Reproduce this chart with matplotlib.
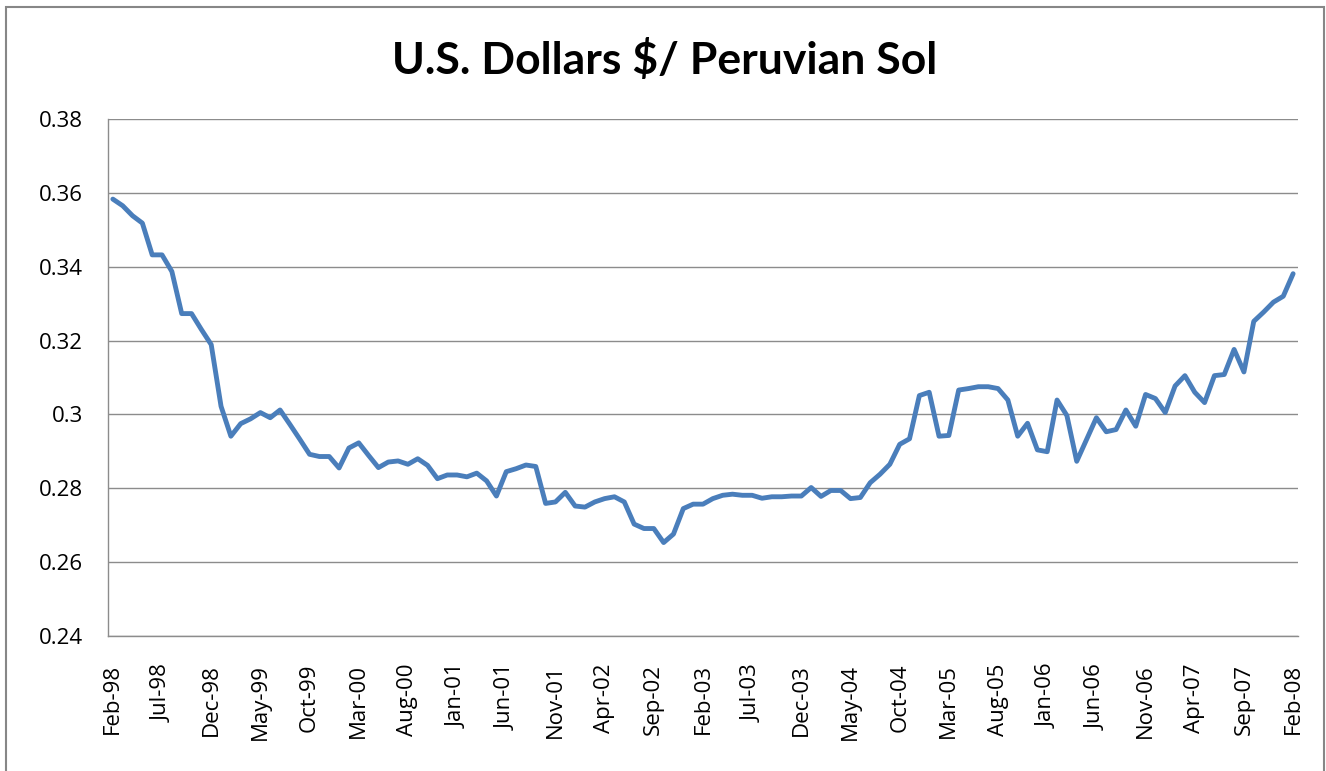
import pandas as pd
import matplotlib
matplotlib.use('Agg')
import matplotlib.pyplot as plt
from matplotlib.patches import Rectangle

# monthly rate, Feb-98 .. Feb-08
months = pd.date_range('1998-02-01', periods=121, freq='MS').strftime('%b-%y').tolist()
rate = [
    0.3583, 0.3565, 0.3538, 0.3518, 0.3432, 0.3432, 0.3387, 0.3273, 0.3273, 0.3230,
    0.3189, 0.3022, 0.2941, 0.2975, 0.2988, 0.3005, 0.2991, 0.3012, 0.2973, 0.2933,
    0.2892, 0.2886, 0.2886, 0.2855, 0.2909, 0.2923, 0.2889, 0.2856, 0.2871, 0.2874,
    0.2865, 0.2880, 0.2862, 0.2826, 0.2836, 0.2836, 0.2831, 0.2841, 0.2820, 0.2779,
    0.2845, 0.2853, 0.2863, 0.2859, 0.2759, 0.2763, 0.2789, 0.2752, 0.2749, 0.2763,
    0.2772, 0.2777, 0.2763, 0.2703, 0.2691, 0.2691, 0.2653, 0.2676, 0.2745, 0.2757,
    0.2757, 0.2772, 0.2781, 0.2784, 0.2781, 0.2781, 0.2773, 0.2777, 0.2777, 0.2779,
    0.2779, 0.2802, 0.2778, 0.2794, 0.2794, 0.2772, 0.2775, 0.2815, 0.2838, 0.2865,
    0.2919, 0.2934, 0.3051, 0.3060, 0.2941, 0.2943, 0.3066, 0.3070, 0.3075, 0.3075,
    0.3070, 0.3039, 0.2941, 0.2976, 0.2904, 0.2899, 0.3039, 0.2997, 0.2873, 0.2932,
    0.2991, 0.2953, 0.2959, 0.3012, 0.2968, 0.3054, 0.3043, 0.3005, 0.3077, 0.3105,
    0.3060, 0.3032, 0.3105, 0.3108, 0.3176, 0.3115, 0.3252, 0.3277, 0.3304, 0.3320,
    0.3381,
]
y_ticks = [0.24, 0.26, 0.28, 0.30, 0.32, 0.34, 0.36, 0.38]
y_labels = ['0.24', '0.26', '0.28', '0.3', '0.32', '0.34', '0.36', '0.38']

fig = plt.figure(figsize=(13.26, 7.71), dpi=100)
ax = fig.add_axes([0.0814, 0.1751, 0.8975, 0.6706])

x = list(range(len(rate)))
ax.plot(x, rate, color='#4A7EBB', linewidth=3.5, solid_joinstyle='round',
        solid_capstyle='round')

ax.set_xlim(-0.5, len(rate) - 0.5)
ax.set_ylim(0.24, 0.38)
ax.set_yticks(y_ticks)
ax.set_yticklabels(y_labels, fontsize=16, family='Open Sans')
ax.set_xticks(x[::5])
ax.set_xticklabels(months[::5], rotation=90, fontsize=16, family='Open Sans',
                   ha='center', va='top')
ax.tick_params(axis='y', length=0, pad=18)
ax.tick_params(axis='x', length=0, pad=20)

ax.grid(axis='y', color='#8C8C8C', linewidth=1.0)
ax.set_axisbelow(True)
for s in ['top', 'right']:
    ax.spines[s].set_visible(False)
for s in ['left', 'bottom']:
    ax.spines[s].set_color('#8C8C8C')
    ax.spines[s].set_linewidth(1.0)

fig.text(0.5015, 0.922, 'U.S. Dollars $/ Peruvian Sol', ha='center', va='center',
         fontsize=32, fontweight='bold', family='Lato')

# chart-area border
fig.patches.append(Rectangle((0.0045, -0.05), 0.994, 1.041, transform=fig.transFigure,
                             fill=False, edgecolor='#878787', linewidth=1.5))

fig.savefig('out.png', dpi=100)
